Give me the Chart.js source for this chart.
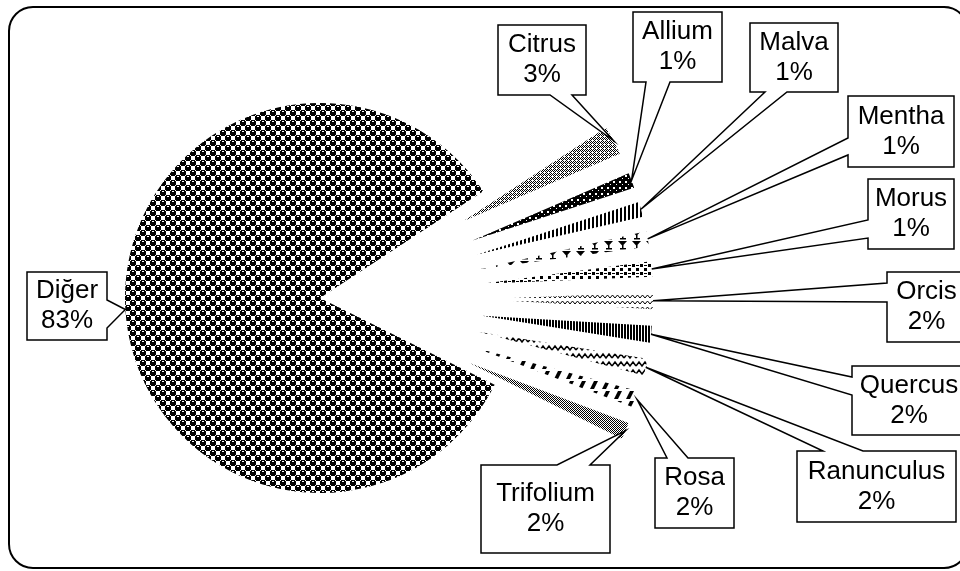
<!DOCTYPE html>
<html>
<head>
<meta charset="utf-8">
<script src="https://cdn.jsdelivr.net/npm/chart.js@4.4.0/dist/chart.umd.min.js"></script>
<style>
  html, body { margin: 0; padding: 0; background: #fff; }
  #wrap { position: relative; width: 960px; height: 571px; overflow: hidden; background: #fff; }
  #wrap canvas { position: absolute; left: 0; top: 0; }
</style>
</head>
<body>
<div id="wrap">
  <div id="pieces"></div>
  <canvas id="bigSlice" width="960" height="571"></canvas>
</div>
<script>
// Share of each genus (percent)
const genera = ['Diğer', 'Citrus', 'Allium', 'Malva', 'Mentha', 'Morus', 'Orcis', 'Quercus', 'Ranunculus', 'Rosa', 'Trifolium'];
const shares = [83.45, 2.75, 1.45, 1.45, 1.45, 1.45, 1.6, 1.6, 1.6, 1.6, 1.6];

// Callout boxes: x, y, w, h, side the pointer leaves from, and its two base points on that side
const calloutBoxes = [
  { x: 27, y: 272, w: 80, h: 68, side: 'right', a: 300, b: 328 },
  { x: 498, y: 25, w: 88, h: 70, side: 'bottom', a: 550, b: 572 },
  { x: 633, y: 12, w: 89, h: 70, side: 'bottom', a: 646, b: 670 },
  { x: 750, y: 23, w: 88, h: 69, side: 'bottom', a: 765, b: 787 },
  { x: 848, y: 96, w: 106, h: 71, side: 'left', a: 138, b: 155 },
  { x: 868, y: 179, w: 86, h: 70, side: 'left', a: 220, b: 238 },
  { x: 887, y: 272, w: 79, h: 70, side: 'left', a: 283, b: 302 },
  { x: 852, y: 366, w: 114, h: 69, side: 'left', a: 377, b: 395 },
  { x: 797, y: 451, w: 159, h: 71, side: 'top', a: 823, b: 863 },
  { x: 655, y: 458, w: 79, h: 70, side: 'top', a: 667, b: 688 },
  { x: 481, y: 465, w: 129, h: 88, side: 'top', a: 557, b: 590 }
];

const W = 960, H = 571;
const MAIN_RADIUS = 195;
const PIECE_RADIUS = 170;   // radius of the pulled-out slices
const PULL = 163;           // how far they are pulled out
const total = shares.reduce((s, v) => s + v, 0);
const NONE = 'rgba(0,0,0,0)';

function makePattern(w, h, paint) {
  const c = document.createElement('canvas');
  c.width = w;
  c.height = h;
  const g = c.getContext('2d');
  g.fillStyle = '#fff';
  g.fillRect(0, 0, w, h);
  g.fillStyle = '#000';
  g.strokeStyle = '#000';
  paint(g);
  return g.createPattern(c, 'repeat');
}

function checker(g, n) {
  for (let i = 0; i < n; i++) {
    for (let j = 0; j < n; j++) {
      if ((i + j) % 2 === 0) g.fillRect(i, j, 1, 1);
    }
  }
}

// rounded black blob with a small white highlight
function blob(g, x, y) {
  g.fillStyle = '#000';
  g.fillRect(x + 1, y, 4, 6);
  g.fillRect(x, y + 1, 6, 4);
  g.fillStyle = '#fff';
  g.fillRect(x + 2, y + 1, 2, 1);
}

// Excel-like black and white fills
const patterns = {
  spheres: makePattern(10, 10, g => {
    blob(g, 0, 0);
    blob(g, 5, 5);
    blob(g, -5, 5);
    blob(g, 5, -5);
    blob(g, -5, -5);
  }),
  fineDots: makePattern(4, 4, g => {
    checker(g, 4);
    g.fillStyle = '#fff';
    g.fillRect(0, 0, 1, 1);
  }),
  whiteDots: makePattern(6, 6, g => {
    g.fillRect(0, 0, 6, 6);
    g.fillStyle = '#fff';
    g.fillRect(1, 1, 2, 2);
    g.fillRect(4, 4, 1, 1);
  }),
  vStripes: makePattern(4, 4, g => g.fillRect(0, 0, 2, 4)),
  goblets: makePattern(14, 10, g => {
    g.beginPath();
    g.moveTo(2, 1); g.lineTo(11, 1); g.lineTo(6.5, 6);
    g.closePath();
    g.fill();
    g.fillRect(6, 5, 1.5, 3);
    g.fillRect(4, 8, 6, 1.5);
  }),
  squares: makePattern(8, 8, g => {
    g.fillRect(0, 0, 3, 3);
    g.fillRect(4, 4, 3, 3);
    g.fillRect(4, 1, 3, 1);
  }),
  lightWave: makePattern(10, 6, g => {
    g.lineWidth = 1;
    g.beginPath();
    g.moveTo(0, 4); g.lineTo(2.5, 1); g.lineTo(5, 4); g.lineTo(7.5, 1); g.lineTo(10, 4);
    g.stroke();
  }),
  denseStripes: makePattern(3, 3, g => g.fillRect(0, 0, 2, 3)),
  wave: makePattern(12, 8, g => {
    g.lineWidth = 1.5;
    g.beginPath();
    g.moveTo(0, 6); g.lineTo(3, 2); g.lineTo(6, 6); g.lineTo(9, 2); g.lineTo(12, 6);
    g.stroke();
  }),
  dashes: makePattern(12, 10, g => {
    g.beginPath();
    g.moveTo(6, 1); g.lineTo(10, 1); g.lineTo(6, 9); g.lineTo(2, 9);
    g.closePath();
    g.fill();
  }),
  grid: makePattern(4, 4, g => {
    checker(g, 4);
    g.fillRect(1, 1, 1, 1);
  })
};

const sliceFills = [patterns.spheres, patterns.fineDots, patterns.whiteDots, patterns.vStripes, patterns.goblets,
  patterns.squares, patterns.lightWave, patterns.denseStripes, patterns.wave, patterns.dashes, patterns.grid];

const baseOptions = {
  responsive: false,
  animation: false,
  events: [],
  rotation: 116.4,
  plugins: { legend: { display: false }, tooltip: { enabled: false } }
};

// chart-area padding that puts the pie centre at (cx, cy)
function centreAt(cx, cy) {
  const left = Math.max(0, 2 * cx - W);
  const top = Math.max(0, 2 * cy - H);
  return { left, right: W - (2 * cx - left), top, bottom: H - (2 * cy - top) };
}

function midAngle(arc) {
  return (arc.startAngle + arc.endAngle) / 2;
}

// Where the callout pointer touches a slice
function anchorOf(arc, i) {
  const mid = midAngle(arc);
  const d = i === 0 ? arc.outerRadius : PULL + PIECE_RADIUS;
  return { x: arc.x + Math.cos(mid) * d, y: arc.y + Math.sin(mid) * d };
}

function drawCallout(ctx, box, tip, lines) {
  const { x, y, w, h, side, a, b } = box;
  ctx.beginPath();
  ctx.moveTo(x, y);
  if (side === 'top') { ctx.lineTo(a, y); ctx.lineTo(tip.x, tip.y); ctx.lineTo(b, y); }
  ctx.lineTo(x + w, y);
  if (side === 'right') { ctx.lineTo(x + w, a); ctx.lineTo(tip.x, tip.y); ctx.lineTo(x + w, b); }
  ctx.lineTo(x + w, y + h);
  if (side === 'bottom') { ctx.lineTo(b, y + h); ctx.lineTo(tip.x, tip.y); ctx.lineTo(a, y + h); }
  ctx.lineTo(x, y + h);
  if (side === 'left') { ctx.lineTo(x, b); ctx.lineTo(tip.x, tip.y); ctx.lineTo(x, a); }
  ctx.closePath();
  ctx.fillStyle = '#fff';
  ctx.fill();
  ctx.lineWidth = 1.5;
  ctx.strokeStyle = '#000';
  ctx.stroke();

  ctx.fillStyle = '#000';
  ctx.font = '26px "Liberation Sans", Arial, sans-serif';
  ctx.textAlign = 'center';
  ctx.textBaseline = 'middle';
  const cx = x + w / 2, cy = y + h / 2;
  ctx.fillText(lines[0], cx, cy - 15);
  ctx.fillText(lines[1], cx, cy + 15);
}

const framePlugin = {
  id: 'frame',
  beforeDraw(chart) {
    const ctx = chart.ctx;
    const x0 = 9, y0 = 7, x1 = 968, y1 = 568, r = 24;
    ctx.save();
    ctx.beginPath();
    ctx.moveTo(x0 + r, y0);
    ctx.arcTo(x1, y0, x1, y1, r);
    ctx.arcTo(x1, y1, x0, y1, r);
    ctx.arcTo(x0, y1, x0, y0, r);
    ctx.arcTo(x0, y0, x1, y0, r);
    ctx.closePath();
    ctx.lineWidth = 2;
    ctx.strokeStyle = '#000';
    ctx.stroke();
    ctx.restore();
  }
};

const calloutPlugin = {
  id: 'callouts',
  afterDraw(chart) {
    const ctx = chart.ctx;
    const arcs = chart.getDatasetMeta(0).data;
    ctx.save();
    genera.forEach((name, i) => {
      const pct = Math.round(shares[i] / total * 100) + '%';
      drawCallout(ctx, calloutBoxes[i], anchorOf(arcs[i], i), [name, pct]);
    });
    ctx.restore();
  }
};

// Main pie: only "Diğer" is filled, it stays in place; frame and callouts sit on top
const mainChart = new Chart(document.getElementById('bigSlice'), {
  type: 'pie',
  data: {
    labels: genera,
    datasets: [{ data: shares, backgroundColor: genera.map((g, i) => i === 0 ? sliceFills[0] : NONE), borderWidth: 0 }]
  },
  options: {
    ...baseOptions,
    radius: MAIN_RADIUS,
    layout: { padding: { left: 0, right: 320, top: 25, bottom: 0 } }
  },
  plugins: [framePlugin, calloutPlugin]
});

// Pulled-out slices: one pie per slice, centred further out along that slice's middle angle
const mainArcs = mainChart.getDatasetMeta(0).data;
const pieces = document.getElementById('pieces');
for (let i = 1; i < genera.length; i++) {
  const mid = midAngle(mainArcs[i]);
  const cx = mainArcs[i].x + Math.cos(mid) * PULL;
  const cy = mainArcs[i].y + Math.sin(mid) * PULL;
  const canvas = document.createElement('canvas');
  canvas.width = W;
  canvas.height = H;
  pieces.appendChild(canvas);
  new Chart(canvas, {
    type: 'pie',
    data: {
      labels: genera,
      datasets: [{ data: shares, backgroundColor: genera.map((g, j) => j === i ? sliceFills[i] : NONE), borderWidth: 0 }]
    },
    options: { ...baseOptions, radius: PIECE_RADIUS, layout: { padding: centreAt(cx, cy) } }
  });
}
</script>
</body>
</html>
